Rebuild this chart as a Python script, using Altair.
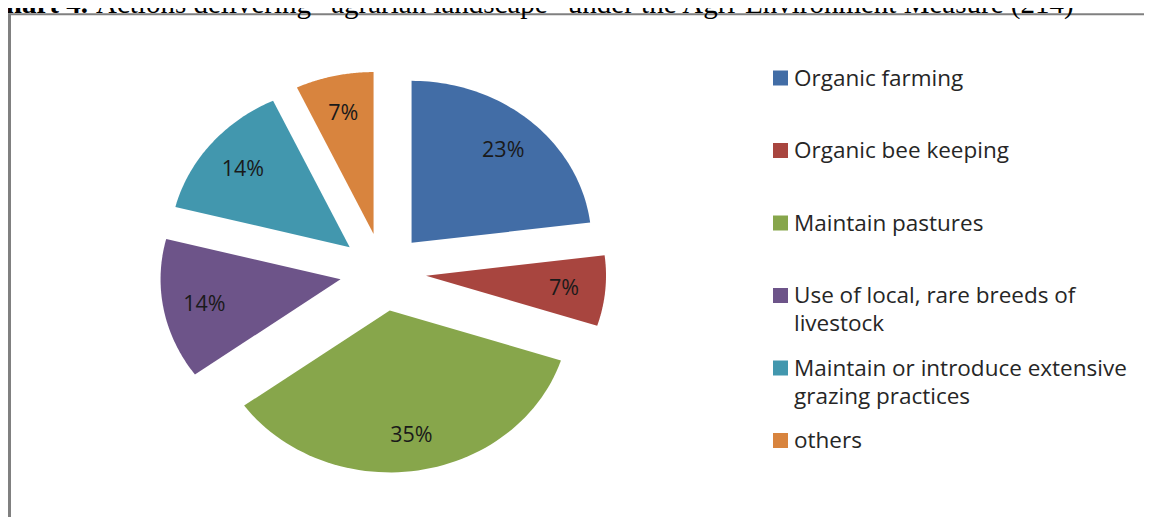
import altair as alt
import pandas as pd

# ---- data ----
categories = [
    "Organic farming",
    "Organic bee keeping",
    "Maintain pastures",
    "Use of local, rare breeds of\nlivestock",
    "Maintain or introduce extensive\ngrazing practices",
    "others",
]
shares = [23, 7, 35, 14, 14, 7]
pct_labels = ["23%", "7%", "35%", "14%", "14%", "7%"]
colors = ["#426DA6", "#A8453F", "#87A64B", "#6D5489", "#4297AE", "#D8843E"]
title_bold = "Chart 4."
title_rest = "Actions delivering \u201cagrarian landscape\u201d under the Agri-Environment Measure (214)"

# ---- layout ----
W, H = 1136, 509
CX, CY = 375, 264
RX, RY = 180, 162
EXPLODE = 0.24
LABEL_R = 0.77
STEPS = 60
FONT = "Open Sans"

df = pd.DataFrame({"cat": categories, "share": shares, "label": pct_labels,
                   "order": list(range(len(categories)))})

base = (
    alt.Chart(df)
    .transform_joinaggregate(total="sum(share)")
    .transform_window(cum="sum(share)", sort=[alt.SortField("order")], frame=[None, 0])
    .transform_calculate(start="2*PI*(datum.cum - datum.share)/datum.total")
    .transform_calculate(end="2*PI*datum.cum/datum.total")
    .transform_calculate(mid="(datum.start + datum.end)/2")
    .transform_calculate(ox=f"{EXPLODE}*sin(datum.mid)")
    .transform_calculate(oy=f"{EXPLODE}*cos(datum.mid)")
)

xs = alt.Scale(domain=[-1, 1], range=[CX - RX, CX + RX], nice=False, zero=False)
ys = alt.Scale(domain=[-1, 1], range=[CY + RY, CY - RY], nice=False, zero=False)
color = alt.Color("cat:N", scale=alt.Scale(domain=categories, range=colors), legend=None)

pie = (
    base.transform_calculate(pts=f"sequence(0, {STEPS + 2})")
    .transform_flatten(["pts"])
    .transform_calculate(ang=f"datum.start + (datum.end - datum.start)*min(datum.pts, {STEPS})/{STEPS}")
    .transform_calculate(ux=f"datum.ox + (datum.pts > {STEPS} ? 0 : sin(datum.ang))")
    .transform_calculate(uy=f"datum.oy + (datum.pts > {STEPS} ? 0 : cos(datum.ang))")
    .mark_line(filled=True, strokeWidth=0)
    .encode(
        x=alt.X("ux:Q", scale=xs, axis=None),
        y=alt.Y("uy:Q", scale=ys, axis=None),
        color=color,
        order=alt.Order("pts:Q"),
    )
)

pct = (
    base.transform_calculate(lx=f"datum.ox + {LABEL_R}*sin(datum.mid)")
    .transform_calculate(ly=f"datum.oy + {LABEL_R}*cos(datum.mid)")
    .mark_text(font=FONT, fontSize=21.5, color="#1a1a1a", dy=2)
    .encode(
        x=alt.X("lx:Q", scale=xs, axis=None),
        y=alt.Y("ly:Q", scale=ys, axis=None),
        text="label:N",
    )
)

leg_y = alt.Y("cat:N", sort=categories, axis=None,
              scale=alt.Scale(type="point", domain=categories, range=[70, 432.5], padding=0))

leg_sq = alt.Chart(df).mark_square(size=225, opacity=1).encode(
    x=alt.value(772.5), y=leg_y, color=color
)
leg_tx = alt.Chart(df).mark_text(
    align="left", baseline="alphabetic", dy=7.5, lineBreak="\n", lineHeight=28,
    font=FONT, fontSize=22.5, color="#262626"
).encode(x=alt.value(786), y=leg_y, text="cat:N")

one = pd.DataFrame({"bold": [title_bold], "rest": [title_rest]})
t_bold = alt.Chart(one).mark_text(
    align="right", baseline="alphabetic", font="Liberation Serif", fontSize=29,
    fontWeight="bold", color="black"
).encode(x=alt.value(80), y=alt.value(5), text="bold:N")
t_rest = alt.Chart(one).mark_text(
    align="left", baseline="alphabetic", font="Liberation Serif", fontSize=29, color="black"
).encode(x=alt.value(88), y=alt.value(5), text="rest:N")

border_left = alt.Chart(one).mark_rule(color="#808080", strokeWidth=3).encode(
    x=alt.value(1.5), y=alt.value(5.5), y2=alt.value(H)
)
border_top = alt.Chart(one).mark_rule(color="#808080", strokeWidth=2).encode(
    x=alt.value(0), x2=alt.value(W), y=alt.value(6.3)
)

chart = (
    alt.layer(border_left, border_top, t_bold, t_rest, pie, pct, leg_sq, leg_tx)
    .resolve_scale(x="independent", y="independent")
    .properties(width=W, height=H, padding=0,
                autosize=alt.AutoSizeParams(type="none"), background="white")
    .configure_view(stroke=None)
)

chart.save("out.html", embed_options={"renderer": "svg", "actions": False})
